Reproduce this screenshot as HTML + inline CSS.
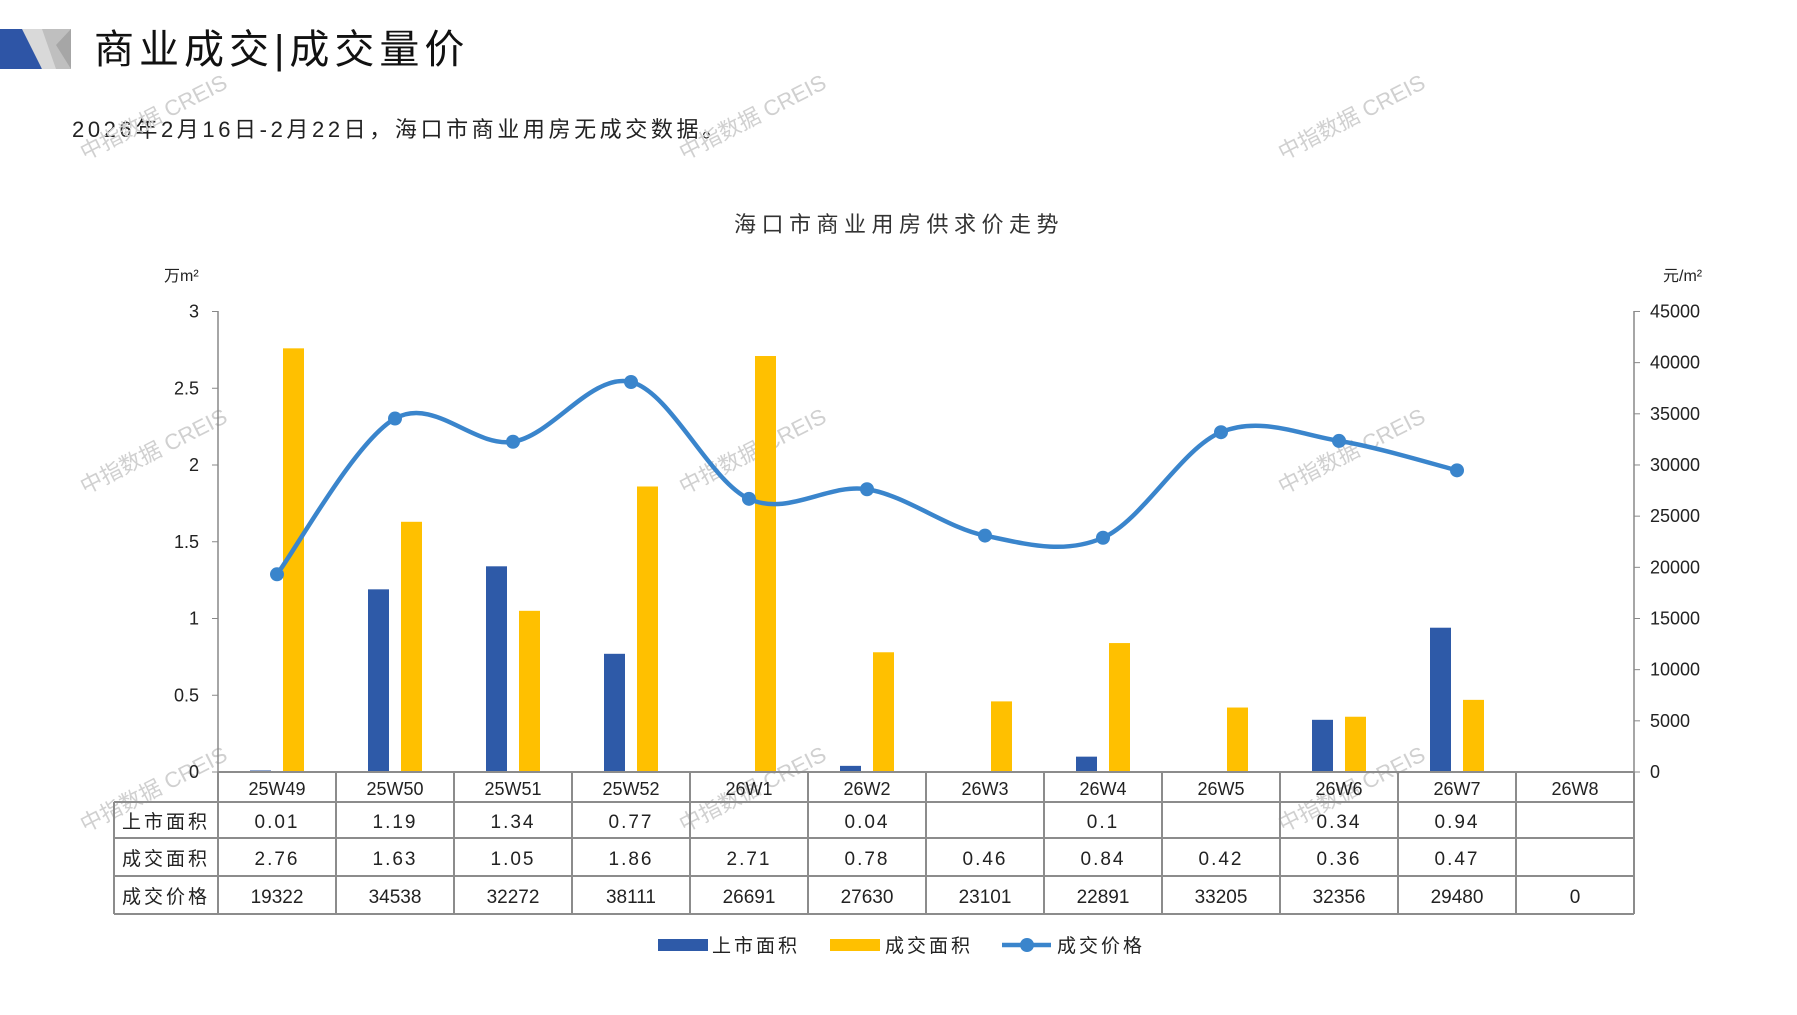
<!DOCTYPE html>
<html><head><meta charset="utf-8"><style>
html,body{margin:0;padding:0;background:#fff}
svg text{font-family:"Liberation Sans","Noto Sans CJK SC",sans-serif}
</style></head><body>
<svg id="s" width="1797" height="1010" viewBox="0 0 1797 1010" xmlns="http://www.w3.org/2000/svg">
<rect width="1797" height="1010" fill="#fff"/>
<polygon points="0,29 28,29 42,69 0,69" fill="#2E55A6"/>
<polygon points="22,29 71,29 71,69 42,69" fill="#D9D9D9"/>
<polygon points="42,29 71,29 71,69 56,69" fill="#BFBFBF"/>
<polygon points="56,45 71,29 71,69" fill="#A6A6A6"/>
<text x="94" y="63" font-size="40" fill="#111" letter-spacing="5">商业成交|成交量价</text>
<text x="72" y="137" font-size="22" fill="#222" letter-spacing="3.6">2026年2月16日-2月22日，海口市商业用房无成交数据。</text>
<text x="899" y="232" font-size="22" fill="#333" text-anchor="middle" letter-spacing="5.5">海口市商业用房供求价走势</text>
<text x="164" y="281" font-size="16" fill="#222">万m²</text>
<text x="1663" y="281" font-size="16" fill="#222">元/m²</text>
<g id="g"></g>
</svg>
<script>
const g=document.getElementById('g');let h='';
const L=218,R=1634,B=772,W=118;
const sup=[0.01,1.19,1.34,0.77,null,0.04,null,0.1,null,0.34,0.94,null];
const deal=[2.76,1.63,1.05,1.86,2.71,0.78,0.46,0.84,0.42,0.36,0.47,null];
const pr=[19322,34538,32272,38111,26691,27630,23101,22891,33205,32356,29480];
const cats=['25W49','25W50','25W51','25W52','26W1','26W2','26W3','26W4','26W5','26W6','26W7','26W8'];
const prl=[19322,34538,32272,38111,26691,27630,23101,22891,33205,32356,29480,0];
[[157,124],[756,124],[1355,124],[157,458],[756,458],[1355,458],[157,796],[756,796],[1355,796]].forEach(p=>{
h+=`<text x="${p[0]}" y="${p[1]}" font-size="22" fill="#d0d0d0" text-anchor="middle" transform="rotate(-27 ${p[0]} ${p[1]})">中指数据 CREIS</text>`;});
h+=`<line x1="${L}" y1="311" x2="${L}" y2="${B}" stroke="#888" stroke-width="1.5"/>`;
h+=`<line x1="${R}" y1="311" x2="${R}" y2="${B}" stroke="#888" stroke-width="1.5"/>`;
const lt=['0','0.5','1','1.5','2','2.5','3'];
for(let i=0;i<7;i++){const y=B-i*76.75;h+=`<line x1="${L-6}" y1="${y}" x2="${L}" y2="${y}" stroke="#888"/><text x="199" y="${y+6}" font-size="18" text-anchor="end" fill="#222">${lt[i]}</text>`;}
for(let i=0;i<10;i++){const y=B-i*51.17;h+=`<line x1="${R}" y1="${y}" x2="${R+6}" y2="${y}" stroke="#888"/><text x="1650" y="${y+6}" font-size="18" fill="#222">${i*5000}</text>`;}
for(let i=0;i<12;i++){const c=L+W*(i+0.5);
if(sup[i]!=null){h+=`<rect x="${c-27}" y="${B-sup[i]*153.5}" width="21" height="${sup[i]*153.5}" fill="#2E5AA8"/>`;}
if(deal[i]!=null){h+=`<rect x="${c+6}" y="${B-deal[i]*153.5}" width="21" height="${deal[i]*153.5}" fill="#FFC000"/>`;}}
const pts=pr.map((p,i)=>[L+W*(i+0.5),B-p*460.5/45000]);
let d=`M${pts[0][0]},${pts[0][1]}`;
for(let i=0;i<pts.length-1;i++){const p0=pts[Math.max(0,i-1)],p1=pts[i],p2=pts[i+1],p3=pts[Math.min(pts.length-1,i+2)];
const t=1/6;d+=` C${p1[0]+(p2[0]-p0[0])*t},${p1[1]+(p2[1]-p0[1])*t} ${p2[0]-(p3[0]-p1[0])*t},${p2[1]-(p3[1]-p1[1])*t} ${p2[0]},${p2[1]}`;}
h+=`<path d="${d}" fill="none" stroke="#3A85CC" stroke-width="4.5"/>`;
pts.forEach(p=>{h+=`<circle cx="${p[0]}" cy="${p[1]}" r="7" fill="#3A85CC"/>`;});
const st='stroke="#8c8c8c" stroke-width="2"';
h+=`<line x1="${L}" y1="772" x2="${R}" y2="772" ${st}/>`;
[802,838,876,914].forEach(y=>{h+=`<line x1="114" y1="${y}" x2="${R}" y2="${y}" ${st}/>`;});
h+=`<line x1="114" y1="802" x2="114" y2="914" ${st}/>`;
for(let i=0;i<=12;i++){const x=L+W*i;h+=`<line x1="${x}" y1="772" x2="${x}" y2="914" ${st}/>`;}
const rows=[['上市面积',sup],['成交面积',deal],['成交价格',prl]];const ry=[802,838,876];
rows.forEach((r,k)=>{const yc=ry[k]+ (k==0?18:19)+8;
h+=`<text x="166" y="${yc}" font-size="19" text-anchor="middle" fill="#222" letter-spacing="3">${r[0]}</text>`;
r[1].forEach((v,i)=>{if(v==null)return;const c=L+W*(i+0.5);let s=k==2?String(v):(v.toFixed(2).replace(/0$/,'').replace(/\.$/,''));if(k<2&&v===0.1)s='0.1';
h+=`<text x="${c}" y="${yc}" font-size="19" text-anchor="middle" fill="#222" letter-spacing="${k<2?2:0}">${s}</text>`;});});
cats.forEach((c,i)=>{h+=`<text x="${L+W*(i+0.5)}" y="795" font-size="18" text-anchor="middle" fill="#222">${c}</text>`;});
h+=`<rect x="658" y="939" width="50" height="12" fill="#2E5AA8"/><text x="712" y="952" font-size="19" fill="#222" letter-spacing="3">上市面积</text>`;
h+=`<rect x="830" y="939" width="50" height="12" fill="#FFC000"/><text x="885" y="952" font-size="19" fill="#222" letter-spacing="3">成交面积</text>`;
h+=`<line x1="1002" y1="945" x2="1051" y2="945" stroke="#3A85CC" stroke-width="4.5"/><circle cx="1027" cy="945" r="7" fill="#3A85CC"/><text x="1057" y="952" font-size="19" fill="#222" letter-spacing="3">成交价格</text>`;
g.innerHTML=h;
</script>
</body></html>
